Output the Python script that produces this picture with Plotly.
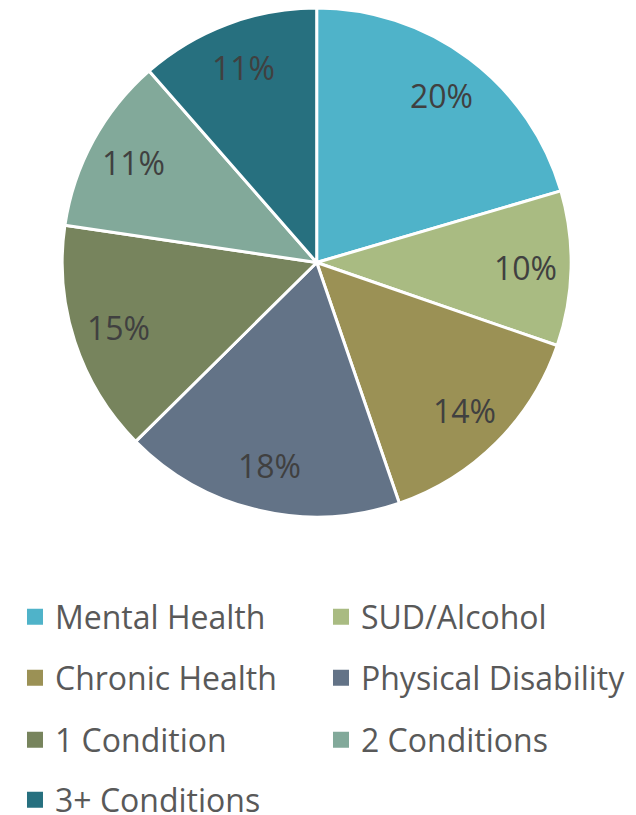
import math

import plotly.graph_objects as go

# ── Data ──────────────────────────────────────────────────────────────────────
LABELS = [
    "Mental Health",
    "SUD/Alcohol",
    "Chronic Health",
    "Physical Disability",
    "1 Condition",
    "2 Conditions",
    "3+ Conditions",
]
SHARES = [20.4, 9.8, 14.4, 17.8, 14.7, 11.2, 11.4]
COLOURS = [
    "#4FB3C9",  # teal-light
    "#A9BB82",  # sage
    "#9B9155",  # olive
    "#637387",  # slate
    "#77845D",  # moss
    "#82A99A",  # sea green
    "#27707F",  # deep teal
]

# legend rows (two entries per row, Excel style)
LEGEND_ROWS = [["legend", 0.2527], ["legend2", 0.1779], ["legend3", 0.1018], ["legend4", 0.0282]]

# ── Layout constants ──────────────────────────────────────────────────────────
W, H = 636, 815
FONT = "Open Sans, sans-serif"
PIE_X = [0.0852, 0.8855]
PIE_Y = [0.3755, 1.0]
LABEL_R = 0.82  # data labels sit at 82% of the radius, like Excel "best fit"

fig = go.Figure()

fig.add_trace(go.Pie(
    labels=LABELS,
    values=SHARES,
    sort=False,
    direction="clockwise",
    rotation=0,
    marker=dict(colors=COLOURS, line=dict(color="white", width=3)),
    textinfo="none",
    domain=dict(x=PIE_X, y=PIE_Y),
    showlegend=False,
    hoverinfo="label+percent",
))

# ── Data labels at slice mid-angles ───────────────────────────────────────────
cx = (PIE_X[0] + PIE_X[1]) / 2 * W
cy = (1 - (PIE_Y[0] + PIE_Y[1]) / 2) * H
radius = min((PIE_X[1] - PIE_X[0]) * W, (PIE_Y[1] - PIE_Y[0]) * H) / 2
total = sum(SHARES)
cum = 0.0
for share in SHARES:
    mid = (cum + share / 2) / total * 2 * math.pi
    cum += share
    px_ = cx + LABEL_R * radius * math.sin(mid)
    py_ = cy - LABEL_R * radius * math.cos(mid)
    fig.add_annotation(
        x=px_ / W, y=1 - py_ / H, xref="paper", yref="paper",
        xanchor="center", yanchor="middle",
        text=f"{round(share / total * 100)}%",
        showarrow=False,
        font=dict(family=FONT, size=32, color="#404040"),
    )

# legend entries: one marker-only trace per category, two per legend row
for i, (lab, col) in enumerate(zip(LABELS, COLOURS)):
    fig.add_trace(go.Scatter(
        x=[None], y=[None],
        mode="markers",
        name=lab,
        marker=dict(symbol="square", size=16, color=col, line=dict(width=0)),
        legend=LEGEND_ROWS[i // 2][0],
        showlegend=True,
    ))

legend_style = dict(
    orientation="h",
    x=0.0110,
    xanchor="left",
    yanchor="middle",
    entrywidth=261,
    entrywidthmode="pixels",
    bgcolor="rgba(0,0,0,0)",
    font=dict(family=FONT, size=32, color="#595959"),
    itemclick=False,
    itemdoubleclick=False,
)

fig.update_layout(
    width=W,
    height=H,
    margin=dict(l=0, r=0, t=0, b=0, autoexpand=False),
    paper_bgcolor="white",
    plot_bgcolor="white",
    xaxis=dict(visible=False),
    yaxis=dict(visible=False),
    **{name: dict(legend_style, y=yy) for name, yy in LEGEND_ROWS},
)

fig.write_html("out.html")
